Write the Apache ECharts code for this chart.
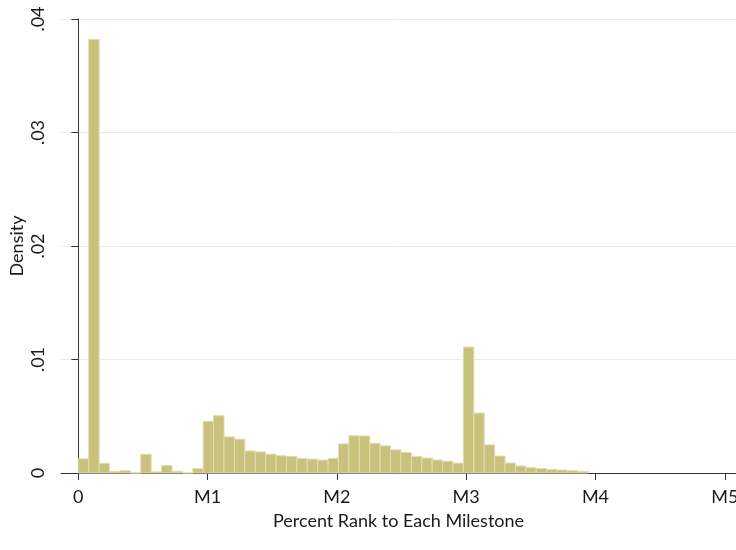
<!DOCTYPE html>
<html>
<head>
<meta charset="utf-8">
<script src="https://cdn.jsdelivr.net/npm/echarts@6/dist/echarts.min.js"></script>
<style>
  html, body { margin: 0; padding: 0; background: #fff; }
  #chart { width: 736px; height: 550px; }
</style>
</head>
<body>
<div id="chart"></div>
<script>
// Histogram of percent rank relative to each milestone (M1 = 100, M2 = 200, ...)
const binWidth = 8.05;
const density = [
  0.00125, 0.0382, 0.00085, 0.00012, 0.0002, 0, 0.00165, 0.0001, 0.00065, 0.00015, 0, 0.00038,
  0.00455, 0.00505, 0.00318, 0.00298, 0.00194, 0.00186, 0.00166, 0.00152, 0.00145, 0.00128, 0.00122, 0.00114,
  0.00128, 0.00256, 0.00328, 0.00326, 0.00262, 0.00239, 0.00204, 0.0018, 0.00146, 0.00132, 0.00114, 0.00104,
  0.00087, 0.0111, 0.00528, 0.00248, 0.0015, 0.00088, 0.00062, 0.00047, 0.0004, 0.0003, 0.00026, 0.0002,
  0.00014
];
const xTicks = [0, 100, 200, 300, 400, 500];
const xTickLabels = ['0', 'M1', 'M2', 'M3', 'M4', 'M5'];
const yTicks = [0, 0.01, 0.02, 0.03, 0.04];
const yTickLabels = ['0', '.01', '.02', '.03', '.04'];

const bins = density.map((d, i) => [i * binWidth, (i + 1) * binWidth, d]);

const FONT = 'Lato, "Open Sans", sans-serif';
const chart = echarts.init(document.getElementById('chart'), null, { renderer: 'canvas' });

chart.setOption({
  animation: false,
  backgroundColor: '#ffffff',
  grid: { left: 61, right: 0, top: 19, bottom: 77, containLabel: false, outerBoundsMode: 'none' },
  xAxis: {
    type: 'value',
    min: -13.4,
    max: 508.7,
    name: 'Percent Rank to Each Milestone',
    nameLocation: 'middle',
    nameGap: 39,
    nameTextStyle: { color: '#1a1a1a', fontSize: 18, fontFamily: FONT },
    axisLine: { show: true, lineStyle: { color: '#333333', width: 1 } },
    axisTick: { show: true, customValues: xTicks, length: 7, lineStyle: { color: '#333333' } },
    axisLabel: {
      customValues: xTicks,
      margin: 15,
      color: '#1a1a1a',
      fontSize: 18,
      fontFamily: FONT,
      formatter: v => xTickLabels[xTicks.indexOf(Math.round(v))] || ''
    },
    splitLine: { show: false }
  },
  yAxis: {
    type: 'value',
    min: 0,
    max: 0.04,
    interval: 0.01,
    name: 'Density',
    nameLocation: 'middle',
    nameRotate: 90,
    nameGap: 35,
    nameMoveOverlap: false,
    nameTextStyle: { color: '#1a1a1a', fontSize: 18, fontFamily: FONT },
    axisLine: { show: true, lineStyle: { color: '#333333', width: 1 } },
    axisTick: { show: true, length: 7, lineStyle: { color: '#333333' } },
    axisLabel: {
      rotate: 90,
      margin: 14,
      color: '#1a1a1a',
      fontSize: 18,
      fontFamily: FONT,
      formatter: v => yTickLabels[Math.round(v * 100)]
    },
    splitLine: { show: true, lineStyle: { color: '#e4eef2', width: 1 } }
  },
  series: [{
    type: 'custom',
    data: bins,
    encode: { x: [0, 1], y: 2 },
    renderItem: function (params, api) {
      const topLeft = api.coord([api.value(0), api.value(2)]);
      const bottomRight = api.coord([api.value(1), 0]);
      return {
        type: 'rect',
        shape: {
          x: topLeft[0],
          y: topLeft[1],
          width: bottomRight[0] - topLeft[0],
          height: bottomRight[1] - topLeft[1]
        },
        style: { fill: '#c9c27d', stroke: '#e0dcae', lineWidth: 1 }
      };
    }
  }]
});
</script>
</body>
</html>
